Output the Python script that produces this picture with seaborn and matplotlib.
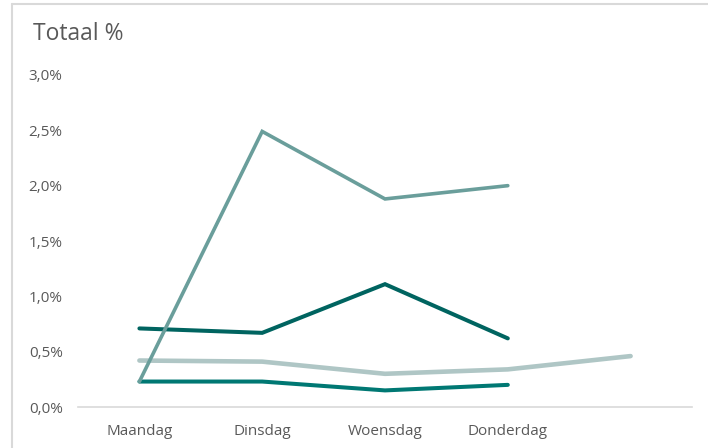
import matplotlib
matplotlib.use("Agg")
import matplotlib.pyplot as plt
from matplotlib.lines import Line2D
import numpy as np
import pandas as pd
import seaborn as sns

days = ["Maandag", "Dinsdag", "Woensdag", "Donderdag", ""]

# values in %
reeks_a = [0.23, 2.49, 1.88, 2.00, np.nan]
reeks_b = [0.71, 0.67, 1.11, 0.62, np.nan]
reeks_c = [0.42, 0.41, 0.30, 0.34, 0.46]
reeks_d = [0.23, 0.23, 0.15, 0.20, np.nan]

series = {"D": reeks_d, "C": reeks_c, "B": reeks_b, "A": reeks_a}
colors = {"A": "#6a9e9b", "B": "#006460", "C": "#afc6c5", "D": "#007873"}
widths = {"A": 2.6, "B": 2.9, "C": 3.3, "D": 2.9}

rows = []
for name, vals in series.items():
    for i, v in enumerate(vals):
        rows.append({"dag": i, "waarde": v, "reeks": name})
df = pd.DataFrame(rows).dropna()

sns.set_theme(style="white")
plt.rcParams["font.family"] = ["Open Sans", "DejaVu Sans"]

fig = plt.figure(figsize=(7.08, 4.48), dpi=100)
ax = fig.add_axes([78 / 708, 41 / 448, 614 / 708, 332 / 448])

for name in series:
    sub = df[df["reeks"] == name]
    sns.lineplot(data=sub, x="dag", y="waarde", color=colors[name],
                 linewidth=widths[name], ax=ax, legend=False, sort=False,
                 solid_capstyle="round", solid_joinstyle="miter")
for l in ax.lines:
    l.set_clip_on(False)

ax.set_xlim(-0.5, 4.5)
ax.set_ylim(0, 3.0)
ax.set_xticks(range(len(days)))
ax.set_xticklabels(days)
ax.set_yticks(np.arange(0, 3.01, 0.5))
ax.set_yticklabels([f"{v:.1f}%".replace(".", ",") for v in np.arange(0, 3.01, 0.5)])
ax.tick_params(axis="both", length=0, labelsize=11, labelcolor="#595959")
ax.tick_params(axis="x", pad=12)
ax.tick_params(axis="y", pad=11)
ax.set_xlabel("")
ax.set_ylabel("")
for s in ["top", "right", "left"]:
    ax.spines[s].set_visible(False)
ax.spines["bottom"].set_color("#d9d9d9")
ax.spines["bottom"].set_linewidth(1.2)

fig.text(33 / 708, 1 - 34 / 448, "Totaal %", fontsize=16.5, color="#595959",
         ha="left", va="center")

# chart frame edges
fig.add_artist(Line2D([12 / 708, 1], [1 - 4 / 448, 1 - 4 / 448],
                      color="#d9d9d9", linewidth=1.5))
fig.add_artist(Line2D([12 / 708, 12 / 708], [0, 1 - 4 / 448],
                      color="#d9d9d9", linewidth=1.5))

fig.savefig("out.png", dpi=100)
